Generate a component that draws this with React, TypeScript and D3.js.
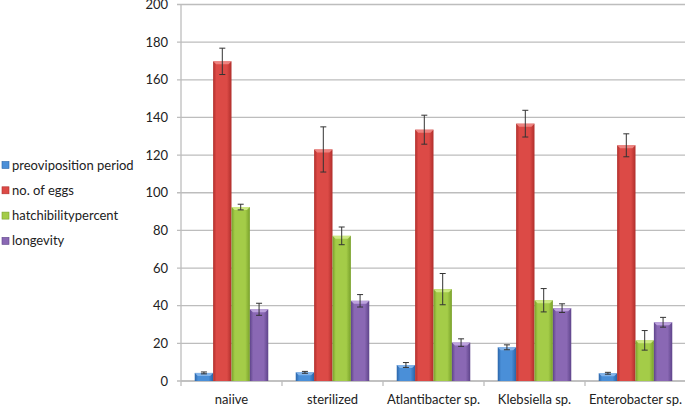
import React from "react";
import * as d3 from "d3";

const categories = ["naiive", "sterilized", "Atlantibacter sp.", "Klebsiella sp.", "Enterobacter sp."];
const seriesNames = ["preoviposition period", "no. of eggs", "hatchibilitypercent", "longevity"];
const preoviposition = [4.3, 4.6, 8.5, 17.9, 4.1];
const preovipositionErr = [0.5, 0.5, 1.3, 1.3, 0.5];
const eggs = [169.8, 123, 133.5, 136.7, 125.2];
const eggsErr = [7, 12, 7.7, 7.1, 6.1];
const hatch = [92.4, 77.1, 48.8, 42.9, 21.6];
const hatchErr = [1.5, 4.7, 8.3, 6.2, 5.2];
const longevity = [38.1, 42.6, 20.4, 38.7, 31.2];
const longevityErr = [3.2, 3.3, 2, 2.3, 2.6];
const yTicks = [0, 20, 40, 60, 80, 100, 120, 140, 160, 180, 200];

const values = [preoviposition, eggs, hatch, longevity];
const errors = [preovipositionErr, eggsErr, hatchErr, longevityErr];
const colors = [
  { mid: "#4a8fd8", dark: "#2a64a8", top: "#8ab8ec" },
  { mid: "#dc4a46", dark: "#b02e2b", top: "#f08a86" },
  { mid: "#a4cc48", dark: "#78a02a", top: "#d2ec8a" },
  { mid: "#8a68b4", dark: "#5e448a", top: "#c2a8e2" },
];

const W = 685;
const H = 407;
const left = 181;
const right = 686;
const top = 4.5;
const bottom = 381;
const font = "Lato, 'Open Sans', sans-serif";

export default function App() {
  const y = d3.scaleLinear().domain([0, 200]).range([bottom, top]);
  const x0 = d3.scaleBand<string>().domain(categories).range([left, right]).padding(0);
  const bw = x0.bandwidth();
  const x1 = d3
    .scaleBand<string>()
    .domain(seriesNames)
    .range([bw * 0.136, bw * 0.864])
    .padding(0);
  const barW = x1.bandwidth();

  return (
    <svg width={W} height={H} style={{ position: "absolute", left: 0, top: 0, background: "#fff" }}>
      <defs>
        {colors.map((c, i) => (
          <linearGradient key={i} id={`g${i}`} x1="0" x2="1" y1="0" y2="0">
            <stop offset="0%" stopColor={c.dark} />
            <stop offset="18%" stopColor={c.mid} />
            <stop offset="75%" stopColor={c.mid} />
            <stop offset="100%" stopColor={c.dark} />
          </linearGradient>
        ))}
      </defs>
      {yTicks.map((t) => (
        <g key={t}>
          <line x1={left - 4} x2={right} y1={y(t)} y2={y(t)} stroke="#bdbdbd" strokeWidth={1.3} />
          <text
            x={168}
            y={y(t)}
            dy="0.35em"
            textAnchor="end"
            fontFamily={font}
            fontSize={13}
            fill="#222"
          >
            {t}
          </text>
        </g>
      ))}
      <line x1={left} x2={left} y1={top} y2={bottom} stroke="#bdbdbd" strokeWidth={1.3} />
      <line x1={left} x2={right} y1={bottom} y2={bottom} stroke="#bdbdbd" strokeWidth={1.3} />
      {categories.map((c, ci) => (
        <line
          key={"t" + c}
          x1={(x0(c) as number) + (ci === 0 ? 0 : 0)}
          x2={x0(c) as number}
          y1={bottom}
          y2={bottom + 5}
          stroke="#bdbdbd"
          strokeWidth={1.3}
        />
      ))}
      {categories.map((c, ci) => (
        <g key={c} transform={`translate(${x0(c)},0)`}>
          {seriesNames.map((s, si) => {
            const v = values[si][ci];
            const e = errors[si][ci];
            const bx = x1(s) as number;
            const by = y(v);
            const h = bottom - by;
            const cx = bx + barW / 2;
            const bev = Math.min(3, h / 2);
            return (
              <g key={s}>
                <rect x={bx} y={by} width={barW} height={h} fill={`url(#g${si})`} />
                <path
                  d={`M${bx},${by} L${bx + barW},${by} L${bx + barW - 3},${by + bev} L${bx + 3},${by + bev} Z`}
                  fill={colors[si].top}
                  opacity={0.9}
                />
                <line x1={cx} x2={cx} y1={y(v + e)} y2={y(v - e)} stroke="#333" strokeWidth={1} />
                <line x1={cx - 3} x2={cx + 3} y1={y(v + e)} y2={y(v + e)} stroke="#333" strokeWidth={1} />
                <line x1={cx - 3} x2={cx + 3} y1={y(v - e)} y2={y(v - e)} stroke="#333" strokeWidth={1} />
              </g>
            );
          })}
          <text
            x={bw / 2}
            y={399}
            dy="0.35em"
            textAnchor="middle"
            fontFamily={font}
            fontSize={13}
            fill="#222"
          >
            {c}
          </text>
        </g>
      ))}
      {seriesNames.map((s, si) => {
        const ly = 165 + si * 25.3;
        return (
          <g key={s}>
            <rect x={2} y={ly - 3.5} width={7} height={7} fill={colors[si].mid} stroke={colors[si].dark} strokeWidth={0.6} />
            <text x={12} y={ly} dy="0.35em" fontFamily={font} fontSize={13} fill="#222">
              {s}
            </text>
          </g>
        );
      })}
    </svg>
  );
}
